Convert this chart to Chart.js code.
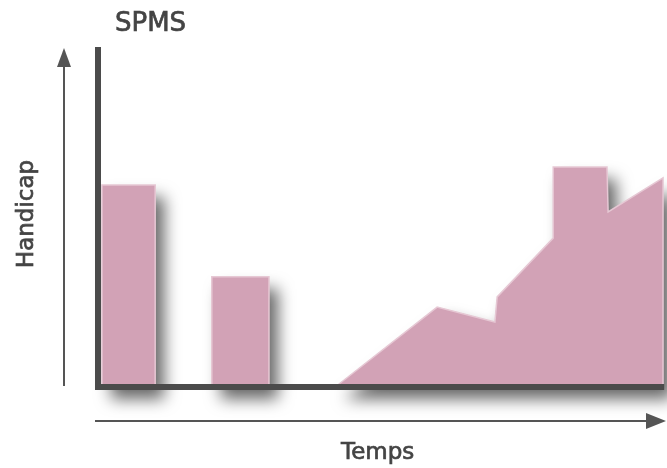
<!DOCTYPE html>
<html>
<head>
<meta charset="utf-8">
<script src="https://cdn.jsdelivr.net/npm/chart.js@4.4.0/dist/chart.umd.min.js"></script>
<style>
  html, body { margin: 0; padding: 0; background: #fff; }
</style>
</head>
<body>
<canvas id="spms-chart" width="667" height="468"></canvas>
<script>
// relapses as two bars, then the progressive phase as one area
const barStart = [0.7, 20.1];
const barEnd = [10.1, 30.2];
const barHeight = [59.4, 32.4];

const areaTime = [41.9, 59.9, 70.1, 70.5, 80.4, 80.4, 89.9, 90.1, 99.8, 99.8];
const areaHandicap = [0, 23.5, 19.1, 26.5, 43.8, 64.7, 64.7, 51.5, 61.5, 0];

const chartTitle = 'SPMS';
const xLabel = 'Temps';
const yLabel = 'Handicap';

const pink = '#d2a2b6';
const pinkEdge = '#e6c8d4';
const axisColor = '#4b4b4b';
const textColor = '#444';

function barShape(i) {
  return [
    { x: barStart[i], y: 0 },
    { x: barStart[i], y: barHeight[i] },
    { x: barEnd[i], y: barHeight[i] },
    { x: barEnd[i], y: 0 },
  ];
}

const areaPoints = areaTime.map((t, i) => ({ x: t, y: areaHandicap[i] }));

const shapeStyle = {
  backgroundColor: pink,
  borderColor: pinkEdge,
  borderWidth: 1.5,
  fill: 'origin',
  pointRadius: 0,
  tension: 0,
};

// the filler clips to each segment, so the shadow is cast from the line path itself
const shadowPlugin = {
  id: 'shadow',
  beforeDatasetsDraw(chart) {
    const ctx = chart.ctx;
    ctx.save();
    ctx.shadowColor = 'rgba(0, 0, 0, 0.6)';
    ctx.shadowBlur = 16;
    ctx.shadowOffsetX = 9;
    ctx.shadowOffsetY = 12;
    ctx.fillStyle = pink;
    chart.data.datasets.forEach((ds, i) => {
      const line = chart.getDatasetMeta(i).dataset;
      ctx.beginPath();
      line.path(ctx);
      ctx.closePath();
      ctx.fill();
    });
    ctx.restore();
  },
};

function label(ctx, text, x, y) {
  ctx.fillText(text, x, y);
  ctx.strokeText(text, x, y);
}

// thick axes, the two arrows and the labels
const decorPlugin = {
  id: 'decor',
  afterDatasetsDraw(chart) {
    const ctx = chart.ctx;
    const x = chart.scales.x;
    const y = chart.scales.y;
    const x0 = x.getPixelForValue(0);
    const x1 = x.getPixelForValue(100);
    const y0 = y.getPixelForValue(0);
    const top = y.getPixelForValue(100);

    ctx.save();
    ctx.fillStyle = axisColor;
    ctx.fillRect(x0 - 3, top, 6, y0 + 3 - top);
    ctx.fillRect(x0 - 3, y0 - 3, x1 - x0 + 3, 6);

    ctx.strokeStyle = '#555';
    ctx.fillStyle = '#555';
    ctx.lineWidth = 2;

    ctx.beginPath();
    ctx.moveTo(64, 386);
    ctx.lineTo(64, 62);
    ctx.stroke();
    ctx.beginPath();
    ctx.moveTo(64, 48);
    ctx.lineTo(57, 67);
    ctx.lineTo(71, 67);
    ctx.closePath();
    ctx.fill();

    ctx.beginPath();
    ctx.moveTo(95, 421);
    ctx.lineTo(650, 421);
    ctx.stroke();
    ctx.beginPath();
    ctx.moveTo(666, 421);
    ctx.lineTo(646, 413);
    ctx.lineTo(646, 429);
    ctx.closePath();
    ctx.fill();

    ctx.fillStyle = textColor;
    ctx.strokeStyle = textColor;
    ctx.lineWidth = 0.7;
    ctx.textBaseline = 'alphabetic';
    ctx.font = '26px "DejaVu Sans"';
    ctx.textAlign = 'left';
    label(ctx, chartTitle, 115, 31);

    ctx.font = '23px "DejaVu Sans"';
    label(ctx, xLabel, 341, 459);

    ctx.translate(33, 214);
    ctx.rotate(-Math.PI / 2);
    ctx.textAlign = 'center';
    label(ctx, yLabel, 0, 0);
    ctx.restore();
  },
};

new Chart(document.getElementById('spms-chart'), {
  type: 'line',
  data: {
    datasets: [
      { data: barShape(0), ...shapeStyle },
      { data: barShape(1), ...shapeStyle },
      { data: areaPoints, ...shapeStyle },
    ],
  },
  options: {
    responsive: false,
    animation: false,
    devicePixelRatio: 1,
    layout: {
      padding: { left: 98, top: 47, right: 0, bottom: 47 },
    },
    scales: {
      x: { type: 'linear', min: 0, max: 100.5, display: false },
      y: { type: 'linear', min: -10, max: 100, display: false },
    },
    plugins: {
      legend: { display: false },
      tooltip: { enabled: false },
    },
  },
  plugins: [shadowPlugin, decorPlugin],
});
</script>
</body>
</html>
